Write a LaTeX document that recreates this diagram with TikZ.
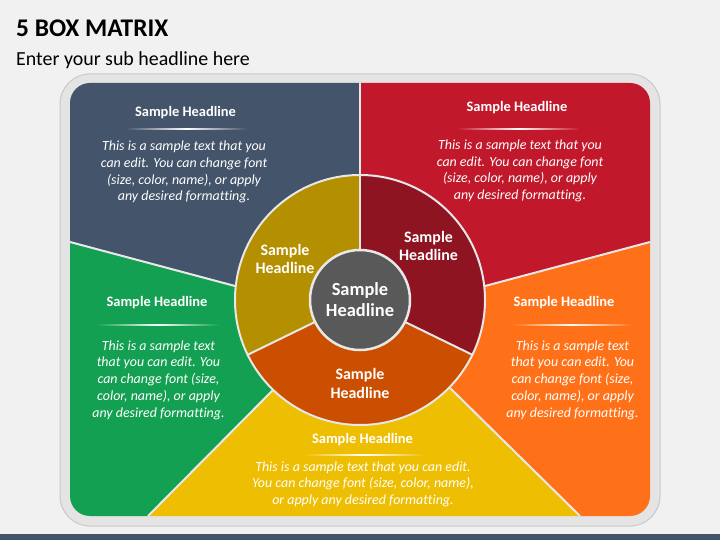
\documentclass[tikz,border=0pt]{standalone}
\usepackage{fontspec}
\setmainfont{Carlito}[Ligatures=NoCommon]
\usetikzlibrary{calc}
\begin{document}
\begin{tikzpicture}[x=1bp,y=-1bp,
  divline/.style={draw=divcol, line width=2bp},
  headtxt/.style={anchor=base, inner sep=0pt, text=white, font=\fontsize{14.5}{17}\selectfont\bfseries},
  bodytxt/.style={anchor=base, inner sep=0pt, align=center, text=white, font=\fontsize{14}{16.8}\selectfont\itshape},
  ringtxt/.style={anchor=base, inner sep=0pt, align=center, text=white, font=\fontsize{16}{19}\selectfont\bfseries},
  centertxt/.style={anchor=base, inner sep=0pt, align=center, text=white, font=\fontsize{18.5}{20.7}\selectfont\bfseries}
]
\definecolor{bg}{HTML}{F1F1F1}
\definecolor{slate}{HTML}{44546A}
\definecolor{redc}{HTML}{C1192B}
\definecolor{greenc}{HTML}{14A052}
\definecolor{orangec}{HTML}{FF7118}
\definecolor{yellowc}{HTML}{EEBE02}
\definecolor{goldc}{HTML}{B48F00}
\definecolor{darkredc}{HTML}{8E1421}
\definecolor{burnt}{HTML}{CC4E00}
\definecolor{centerc}{HTML}{595959}
\definecolor{framefill}{HTML}{E4E4E4}
\definecolor{framedraw}{HTML}{C9C9C9}
\definecolor{divcol}{HTML}{E8E8E8}

\useasboundingbox (0,0) rectangle (720,540);
\fill[bg] (0,0) rectangle (720,540);
\fill[slate] (0,534) rectangle (720,540);

% titles
\node[anchor=base west, inner sep=0pt, font=\fontsize{25.5}{30}\selectfont\bfseries] (title) at (16,37) {5 BOX MATRIX};
\node[anchor=base west, inner sep=0pt, font=\fontsize{20}{24}\selectfont] (subtitle) at (16,66) {Enter your sub headline here};

% frame
\draw[fill=framefill, draw=framedraw, line width=1bp, rounded corners=30bp] (60,74) rectangle (660,526);

% coordinates
\coordinate (C) at (360,300);
\coordinate (T1) at (360,60);
\coordinate (Tc) at (360,175);
\coordinate (L1) at (50,236.7);
\coordinate (L0) at (70,242);
\coordinate (Lc) at (235,286);
\coordinate (R1) at (670,236.7);
\coordinate (R0) at (650,242);
\coordinate (Rc) at (485,286);
\coordinate (BL1) at (124,540);
\coordinate (BL0) at (148,516);
\coordinate (BLc) at (273,390);
\coordinate (BR1) at (604,540);
\coordinate (BR0) at (580,516);
\coordinate (BRc) at (450,388);

\begin{scope}
\clip[rounded corners=20bp] (70,83) rectangle (650,516);
\fill[slate] (C) -- (T1) -- (50,60) -- (L1) -- (Lc) -- cycle;
\fill[redc] (C) -- (T1) -- (670,60) -- (R1) -- (Rc) -- cycle;
\fill[greenc] (C) -- (Lc) -- (L1) -- (50,540) -- (BL1) -- (BLc) -- cycle;
\fill[yellowc] (C) -- (BLc) -- (BL1) -- (BR1) -- (BRc) -- cycle;
\fill[orangec] (C) -- (BRc) -- (BR1) -- (670,540) -- (R1) -- (Rc) -- cycle;
\draw[divline] (Tc) -- (360,70);
\draw[divline] (Lc) -- (L0);
\draw[divline] (Rc) -- (R0);
\draw[divline] (BLc) -- (BL0);
\draw[divline] (BRc) -- (BR0);
\end{scope}

% ring
\fill[goldc] (C) -- ++(154:125) arc[start angle=154, end angle=270, radius=125] -- cycle;
\fill[darkredc] (C) -- ++(270:125) arc[start angle=270, end angle=386, radius=125] -- cycle;
\fill[burnt] (C) -- ++(26:125) arc[start angle=26, end angle=154, radius=125] -- cycle;
\draw[divline] (C) circle[radius=125];
\draw[divline] ($(C)+(270:50)$) -- ($(C)+(270:125)$);
\draw[divline] ($(C)+(154:50)$) -- ($(C)+(154:125)$);
\draw[divline] ($(C)+(26:50)$) -- ($(C)+(26:125)$);
\draw[fill=centerc, draw=divcol, line width=2.5bp] (C) circle[radius=50];

% ring labels (anchor base = last line)
\node[ringtxt] (rg) at (285,274) {Sample\\Headline};
\node[ringtxt] (rr) at (428.5,261) {Sample\\Headline};
\node[ringtxt] (rb) at (360,398) {Sample\\Headline};
\node[centertxt] (rc) at (360,316) {Sample\\Headline};

% separators
\shade[left color=slate, right color=slate, middle color=white] (126,128.3) rectangle (247,129.7);
\shade[left color=redc, right color=redc, middle color=white] (457,128.3) rectangle (580,129.7);
\shade[left color=greenc, right color=greenc, middle color=white] (97,324.3) rectangle (219,325.7);
\shade[left color=orangec, right color=orangec, middle color=white] (512,324.3) rectangle (633,325.7);
\shade[left color=yellowc, right color=yellowc, middle color=white] (303,454.3) rectangle (425,455.7);

% headlines
\node[headtxt] (h1) at (185.5,117) {Sample Headline};
\node[headtxt] (h2) at (517,112) {Sample Headline};
\node[headtxt] (h3) at (157,306) {Sample Headline};
\node[headtxt] (h4) at (564,306) {Sample Headline};
\node[headtxt] (h5) at (362.5,443) {Sample Headline};

% bodies (anchor base = last line)
\node[bodytxt] (b1) at (184,201) {This is a sample text that you\\can edit. You can change font\\(size, color, name), or apply\\any desired formatting.};
\node[bodytxt] (b2) at (520,199.5) {This is a sample text that you\\can edit. You can change font\\(size, color, name), or apply\\any desired formatting.};
\node[bodytxt] (b3) at (158.5,417.2) {This is a sample text\\that you can edit. You\\can change font (size,\\color, name), or apply\\any desired formatting.};
\node[bodytxt] (b4) at (572.5,417.2) {This is a sample text\\that you can edit. You\\can change font (size,\\color, name), or apply\\any desired formatting.};
\node[bodytxt] (b5) at (363,504.6) {This is a sample text that you can edit.\\You can change font (size, color, name),\\or apply any desired formatting.};
\end{tikzpicture}
\end{document}
